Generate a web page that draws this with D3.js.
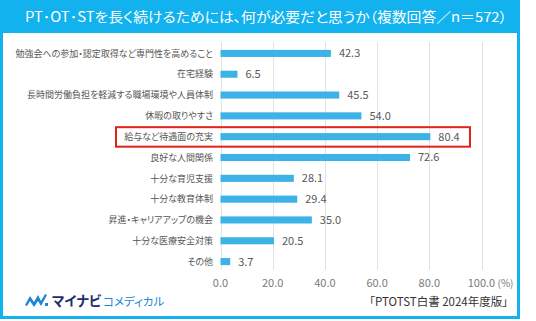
<!DOCTYPE html>
<html>
<head>
<meta charset="utf-8">
<script src="https://cdn.jsdelivr.net/npm/d3@7"></script>
<style>
	body { margin: 0; background: #fff; }
	svg { display: block; font-family: "Noto Sans CJK JP", "Noto Sans", sans-serif; font-feature-settings: "palt" 1; }
	.grid line { stroke: #e3e3e3; stroke-width: 1; }
	.cat { fill: #555; font-size: 9px; }
	.val { fill: #595959; font-size: 11px; }
	.tick-label { fill: #7a7a7a; font-size: 11px; }
</style>
</head>
<body>
<div class="box"></div>
<script>
// answers, top to bottom
var categories = [
	'勉強会への参加・認定取得など専門性を高めること',
	'在宅経験',
	'長時間労働負担を軽減する職場環境や人員体制',
	'休暇の取りやすさ',
	'給与など待遇面の充実',
	'良好な人間関係',
	'十分な育児支援',
	'十分な教育体制',
	'昇進・キャリアアップの機会',
	'十分な医療安全対策',
	'その他'
];
var values = [42.3, 6.5, 45.5, 54.0, 80.4, 72.6, 28.1, 29.4, 35.0, 20.5, 3.7];
var ticks = [0, 20, 40, 60, 80, 100];
var highlight = '給与など待遇面の充実';

var width = 536, height = 321;
var blue = '#12b2ee';

var svg = d3.select('.box')
	.append('svg')
	.attr('width', width)
	.attr('height', height);

// frame and title bar
svg.append('rect')
	.attr('x', 1.5).attr('y', 1.5)
	.attr('width', 517).attr('height', 316)
	.attr('fill', '#fff')
	.attr('stroke', blue)
	.attr('stroke-width', 3);

svg.append('rect')
	.attr('x', 0).attr('y', 0)
	.attr('width', 520).attr('height', 33)
	.attr('fill', blue);

svg.append('text')
	.attr('x', 25).attr('y', 21.5)
	.attr('fill', '#fff')
	.attr('textLength', 482)
	.attr('lengthAdjust', 'spacingAndGlyphs')
	.style('font-size', '14px')
	.text('PT･OT･STを長く続けるためには、何が必要だと思うか（複数回答／n＝572）');

var x = d3.scaleLinear().domain([0, 100]).range([220.5, 481.5]);
var y = d3.scaleBand().domain(categories).range([43, 272]).paddingInner(0.66).paddingOuter(0.33);

// vertical grid
svg.append('g')
	.attr('class', 'grid')
	.selectAll('line')
	.data(ticks)
	.enter()
	.append('line')
		.attr('x1', function(d) { return Math.round(x(d)) + 0.5; })
		.attr('x2', function(d) { return Math.round(x(d)) + 0.5; })
		.attr('y1', 42)
		.attr('y2', 270);

svg.selectAll('rect.bar')
	.data(values)
	.enter()
	.append('rect')
		.attr('class', 'bar')
		.attr('x', x(0))
		.attr('y', function(d, i) { return y(categories[i]); })
		.attr('width', function(d) { return x(d) - x(0); })
		.attr('height', y.bandwidth())
		.attr('fill', '#3db2e6');

svg.selectAll('text.val')
	.data(values)
	.enter()
	.append('text')
		.attr('class', 'val')
		.attr('x', function(d) { return x(d) + 8; })
		.attr('y', function(d, i) { return y(categories[i]) + y.bandwidth() / 2; })
		.attr('dy', '0.36em')
		.text(function(d) { return d.toFixed(1); });

svg.selectAll('text.cat')
	.data(categories)
	.enter()
	.append('text')
		.attr('class', 'cat')
		.attr('x', 213)
		.attr('y', function(d) { return y(d) + y.bandwidth() / 2; })
		.attr('dy', '0.36em')
		.attr('text-anchor', 'end')
		.text(function(d) { return d; });

// highlighted row
var hy = y(highlight) + y.bandwidth() / 2;
svg.append('rect')
	.attr('x', 116).attr('y', hy - 9.5)
	.attr('width', 354).attr('height', 19.5)
	.attr('fill', 'none')
	.attr('stroke', '#e2231a')
	.attr('stroke-width', 2);

// x axis labels
svg.selectAll('text.tick-label')
	.data(ticks)
	.enter()
	.append('text')
		.attr('class', 'tick-label')
		.attr('x', function(d) { return x(d); })
		.attr('y', 286.5)
		.attr('text-anchor', 'middle')
		.text(function(d) { return d.toFixed(1); });

svg.append('text')
	.attr('class', 'tick-label')
	.attr('x', x(100) + 16)
	.attr('y', 286.5)
	.style('font-size', '10px')
	.text('(%)');

// source
svg.append('text')
	.attr('x', 508).attr('y', 306)
	.attr('text-anchor', 'end')
	.attr('fill', '#333')
	.style('font-size', '11.5px')
	.text('「PTOTST白書  2024年度版」');

// logo
var logo = svg.append('g').attr('transform', 'translate(25,293)');
logo.append('path')
	.attr('d', 'M0,12 L5,3 L9,9 L13,2 L16,8 L20,1 L22,2 L16,13 L13,8 L9,14 L5,8 L2,13 Z')
	.attr('fill', '#1b86d6');
logo.append('rect')
	.attr('x', 20).attr('y', 10).attr('width', 3).attr('height', 3)
	.attr('fill', '#1b86d6');
logo.append('text')
	.attr('x', 27).attr('y', 13)
	.attr('fill', '#1d2d6b')
	.style('font-size', '13.5px')
	.style('font-weight', 'bold')
	.text('マイナビ');
logo.append('text')
	.attr('x', 78).attr('y', 13)
	.attr('fill', '#1b86d6')
	.style('font-size', '11.5px')
	.text('コメディカル');
</script>
</body>
</html>
